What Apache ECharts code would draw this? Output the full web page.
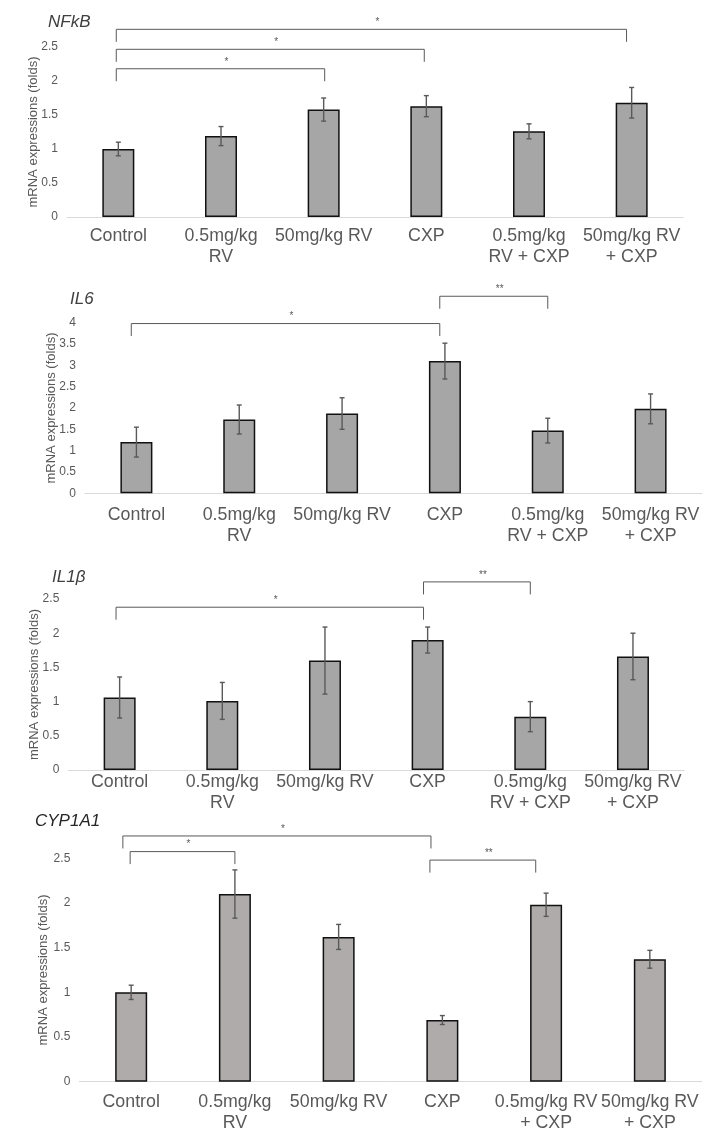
<!DOCTYPE html>
<html><head><meta charset="utf-8">
<script src="https://cdn.jsdelivr.net/npm/echarts/dist/echarts.min.js"></script>
<style>html,body{margin:0;padding:0;background:#fff}#c{width:717px;height:1144px}</style>
</head><body><div id="c"></div>
<script>
// ---------- data ----------
const categoriesA = ['Control', '0.5mg/kg\nRV', '50mg/kg RV', 'CXP', '0.5mg/kg\nRV + CXP', '50mg/kg RV\n+ CXP'];
const categoriesB = ['Control', '0.5mg/kg\nRV', '50mg/kg RV', 'CXP', '0.5mg/kg RV\n+ CXP', '50mg/kg RV\n+ CXP'];
const panelTitles = ['NFkB', 'IL6', 'IL1β', 'CYP1A1'];
const yAxisName = 'mRNA expressions (folds)';
const yMax = [2.5, 4, 2.5, 2.5];
const yStep = [0.5, 0.5, 0.5, 0.5];

const nfkbMean = [1.00, 1.19, 1.58, 1.63, 1.26, 1.68];
const nfkbErr  = [0.10, 0.14, 0.17, 0.155, 0.11, 0.225];
const il6Mean  = [1.20, 1.73, 1.87, 3.10, 1.47, 1.98];
const il6Err   = [0.35, 0.34, 0.37, 0.42, 0.29, 0.35];
const il1bMean = [1.06, 1.01, 1.60, 1.90, 0.78, 1.66];
const il1bErr  = [0.30, 0.27, 0.49, 0.19, 0.22, 0.34];
const cypMean  = [1.00, 2.10, 1.62, 0.69, 1.98, 1.37];
const cypErr   = [0.08, 0.27, 0.14, 0.05, 0.13, 0.10];

// significance brackets: [from category, to category, level (y units), label]
const nfkbBrackets = [[-0.02, 4.95, 2.76, '*'], [-0.02, 2.98, 2.466, '*'], [-0.02, 2.01, 2.18, '*']];
const il6Brackets  = [[-0.05, 2.95, 3.98, '*'], [2.95, 4.0, 4.62, '**']];
const il1bBrackets = [[-0.035, 2.96, 2.38, '*'], [2.96, 4.0, 2.75, '**']];
const cypBrackets  = [[-0.08, 2.89, 2.75, '*'], [-0.01, 1.0, 2.575, '*'], [2.88, 3.9, 2.48, '**']];

// ---------- layout / style ----------
const grids = [
  {left: 67,   right: 34,   top: 47,    height: 170},
  {left: 85,   right: 15,   top: 322.7, height: 170.6},
  {left: 68.3, right: 32.7, top: 599,   height: 171},
  {left: 79.3, right: 15.3, top: 858.3, height: 223.4}
];
const titlePos = [{left: 48, top: 14}, {left: 70, top: 291}, {left: 52, top: 569}, {left: 35, top: 813}];
const labelMargin = [9, 11, 2, 10];
const nameGap = [27.5, 27, 27, 29.5];
const barColors = ['#a6a6a6', '#a6a6a6', '#a6a6a6', '#afabab'];
const FONT = 'Liberation Sans, Arial, sans-serif';
const GREY = '#595959';

const panels = [
  {cats: categoriesA, mean: nfkbMean, err: nfkbErr, br: nfkbBrackets},
  {cats: categoriesA, mean: il6Mean, err: il6Err, br: il6Brackets},
  {cats: categoriesA, mean: il1bMean, err: il1bErr, br: il1bBrackets},
  {cats: categoriesB, mean: cypMean, err: cypErr, br: cypBrackets}
];

function errRender(params, api) {
  const i = api.value(0), v = api.value(1), e = api.value(2);
  const t = api.coord([i, v + e]), b = api.coord([i, v - e]);
  const cap = 2.5;
  const style = {stroke: GREY, lineWidth: 1.4};
  return {type: 'group', children: [
    {type: 'line', shape: {x1: t[0], y1: t[1], x2: b[0], y2: b[1]}, style},
    {type: 'line', shape: {x1: t[0] - cap, y1: t[1], x2: t[0] + cap, y2: t[1]}, style},
    {type: 'line', shape: {x1: b[0] - cap, y1: b[1], x2: b[0] + cap, y2: b[1]}, style}
  ]};
}

function makeBracketRender(list) {
  return function (params, api) {
    const d = list[params.dataIndex];
    const bw = api.size([1, 0])[0];
    const xAt = v => { const i = Math.round(v); return api.coord([i, 0])[0] + (v - i) * bw; };
    const x1 = xAt(d[0]), x2 = xAt(d[1]);
    const y = api.coord([0, d[2]])[1];
    const drop = 12.5;
    const style = {stroke: GREY, lineWidth: 1};
    return {type: 'group', children: [
      {type: 'polyline', shape: {points: [[x1, y + drop], [x1, y], [x2, y], [x2, y + drop]]}, style: Object.assign({fill: null}, style)},
      {type: 'text', style: {text: d[3], x: (x1 + x2) / 2 + 6, y: y - 7, align: 'center', verticalAlign: 'middle',
        font: '10px ' + FONT, fill: GREY}}
    ]};
  };
}

const option = {
  animation: false,
  backgroundColor: '#fff',
  title: panelTitles.map((t, k) => ({
    text: t, left: titlePos[k].left, top: titlePos[k].top, padding: 0,
    textStyle: {fontFamily: FONT, fontSize: 17, fontStyle: 'italic', fontWeight: 'normal', color: k === 3 ? '#262626' : '#404040'}
  })),
  grid: grids.map(g => Object.assign({containLabel: false, outerBoundsMode: 'none'}, g)),
  xAxis: panels.map((p, k) => ({
    type: 'category', gridIndex: k, data: p.cats,
    axisLine: {show: true, lineStyle: {color: '#d9d9d9', width: 1}},
    axisTick: {show: false},
    axisLabel: {interval: 0, margin: labelMargin[k], fontFamily: FONT, fontSize: 17.8, lineHeight: 21, color: GREY},
    splitLine: {show: false}
  })),
  yAxis: panels.map((p, k) => ({
    type: 'value', gridIndex: k, min: 0, max: yMax[k], interval: yStep[k],
    name: yAxisName, nameLocation: 'middle', nameGap: nameGap[k], nameRotate: 90,
    nameMoveOverlap: false,
    nameTextStyle: {fontFamily: FONT, fontSize: 13, color: GREY},
    axisLine: {show: false}, axisTick: {show: false},
    axisLabel: {margin: 9, fontFamily: FONT, fontSize: 12, color: GREY},
    splitLine: {show: false}
  })),
  series: []
};

panels.forEach((p, k) => {
  option.series.push({
    type: 'bar', xAxisIndex: k, yAxisIndex: k, data: p.mean, barWidth: 32,
    itemStyle: {color: barColors[k], borderColor: '#111', borderWidth: 1.5}, z: 2
  });
  option.series.push({
    type: 'custom', xAxisIndex: k, yAxisIndex: k, renderItem: errRender, z: 3,
    encode: {x: 0, y: 1},
    data: p.mean.map((v, i) => [i, v, p.err[i]])
  });
  option.series.push({
    type: 'custom', xAxisIndex: k, yAxisIndex: k, renderItem: makeBracketRender(p.br), z: 4,
    clip: false, encode: {x: 0, y: 2},
    data: p.br.map(b => [Math.round(b[0]), Math.round(b[1]), b[2]])
  });
});

const chart = echarts.init(document.getElementById('c'), null, {renderer: 'canvas'});
chart.setOption(option);
</script>
</body></html>
